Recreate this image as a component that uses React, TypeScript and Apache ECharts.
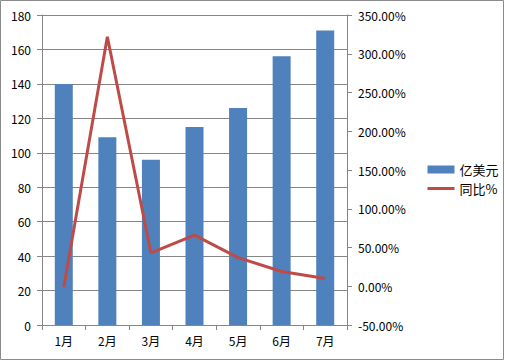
import React, { useEffect, useRef } from "react";
import * as echarts from "echarts";

const categories = ["1月", "2月", "3月", "4月", "5月", "6月", "7月"];
const amountValues = [140, 109, 96, 115, 126, 156, 171];
const yoyValues = [-1, 322, 43, 66, 37, 19, 10];
const barName = "亿美元";
const lineName = "同比%";

const FONT = "'Noto Sans CJK SC', 'Noto Sans', sans-serif";

export default function App() {
  const ref = useRef<HTMLDivElement>(null);
  useEffect(() => {
    if (!ref.current) return;
    const chart = echarts.init(ref.current, undefined, { renderer: "svg" });
    const axisLine = { show: true, lineStyle: { color: "#868686", width: 1 } };
    chart.setOption({
      animation: false,
      backgroundColor: "#ffffff",
      textStyle: { fontFamily: FONT },
      grid: { left: 42, right: 158, top: 15, bottom: 36, containLabel: false },
      legend: {
        orient: "vertical",
        left: 421,
        top: 158,
        itemGap: 6,
        itemWidth: 27,
        itemHeight: 8,
        textStyle: { fontFamily: FONT, fontSize: 13, color: "#000" },
        data: [
          { name: barName, icon: "rect" },
          { name: lineName, itemStyle: { opacity: 0 }, lineStyle: { width: 3, color: "#BE4B48" } },
        ],
      },
      graphic: [
        {
          type: "rect",
          shape: { x: 0.5, y: 0.5, width: 503, height: 359 },
          style: { fill: "none", stroke: "#8c8c8c", lineWidth: 1 },
          silent: true,
        },
      ],
      xAxis: {
        type: "category",
        data: categories,
        axisLine,
        axisTick: { show: true, alignWithLabel: false, length: 5, lineStyle: { color: "#868686" } },
        axisLabel: { color: "#000", fontFamily: FONT, fontSize: 12, margin: 9 },
      },
      yAxis: [
        {
          type: "value",
          min: 0,
          max: 180,
          interval: 20,
          axisLine,
          axisTick: { show: true, length: 5, lineStyle: { color: "#868686" } },
          splitLine: { show: true, lineStyle: { color: "#868686", width: 1 } },
          axisLabel: { color: "#000", fontFamily: FONT, fontSize: 12, margin: 11 },
        },
        {
          type: "value",
          min: -50,
          max: 350,
          interval: 50,
          position: "right",
          axisLine,
          axisTick: { show: true, length: 5, lineStyle: { color: "#868686" } },
          splitLine: { show: false },
          axisLabel: {
            color: "#000",
            fontFamily: FONT,
            fontSize: 12,
            margin: 11,
            formatter: (v: number) => `${v.toFixed(2)}%`,
          },
        },
      ],
      series: [
        {
          name: barName,
          type: "bar",
          data: amountValues,
          yAxisIndex: 0,
          barWidth: 18,
          itemStyle: { color: "#4F81BD" },
        },
        {
          name: lineName,
          type: "line",
          data: yoyValues,
          yAxisIndex: 1,
          symbol: "none",
          lineStyle: { color: "#BE4B48", width: 3 },
          itemStyle: { color: "#BE4B48" },
        },
      ],
    });
    return () => chart.dispose();
  }, []);
  return (
    <div
      ref={ref}
      style={{ position: "fixed", left: 0, top: 0, width: 505, height: 361 }}
    />
  );
}
